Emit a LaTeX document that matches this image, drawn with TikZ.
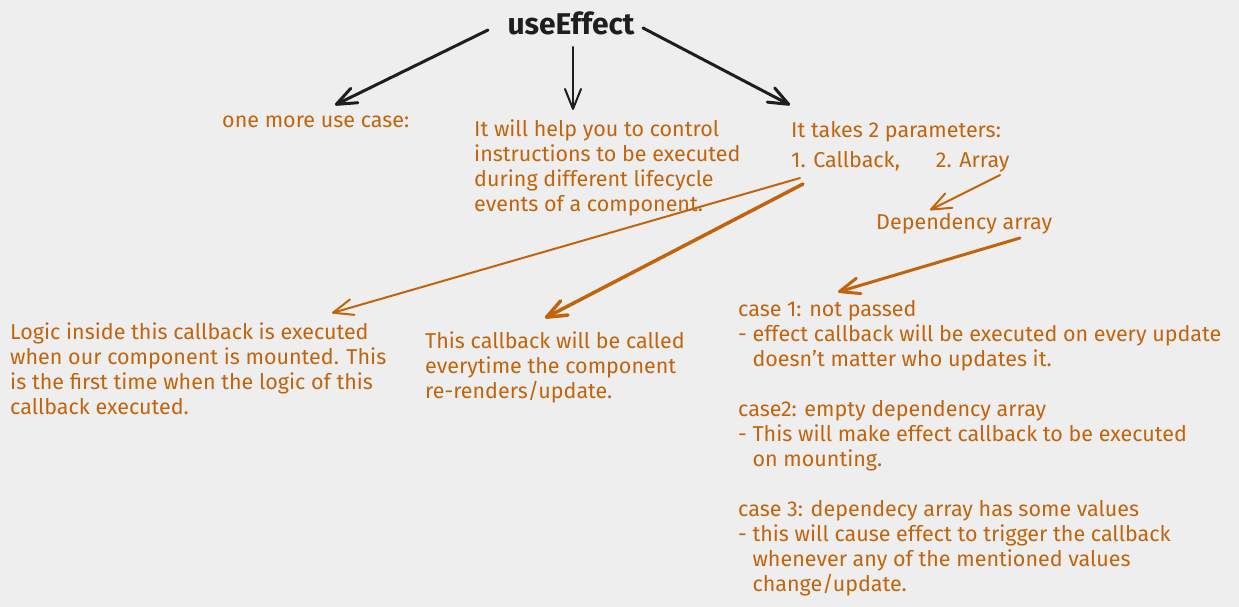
\documentclass[tikz,border=0pt]{standalone}
\usepackage{fontspec}
\setmainfont{Fira Sans}
\usetikzlibrary{arrows.meta,calc}
\definecolor{bgcol}{RGB}{238,238,238}
\definecolor{inkblack}{RGB}{30,30,30}
\definecolor{inkorange}{RGB}{194,100,12}
\begin{document}
\begin{tikzpicture}[x=1pt,y=-1pt,
    ttl/.style={text=inkblack, font=\fontsize{30}{36}\selectfont\bfseries, inner sep=0pt, anchor=base},
    txt/.style={text=inkorange, font=\fontsize{21.5}{25}\selectfont, align=left,
      inner sep=0pt, anchor=base west},
    arw/.style={draw=inkblack, line width=3pt, line cap=round,
      -{Straight Barb[length=20pt,width=16pt,round]}},
    oarw/.style={draw=inkorange, line width=2pt, line cap=round,
      -{Straight Barb[length=20pt,width=16pt,round]}}]
  \fill[bgcol] (0,0) rectangle (1239,607);
  % multi-line texts sit on their last baseline
  \node[ttl] (UseEffect) at (571,35) {useEffect};
  \node[txt] (UseCase) at (222,128) {one more use case:};
  \node[txt] (Control) at (474,211) {It will help you to control\\
    instructions to be executed\\during different lifecycle\\events of a component.};
  \node[txt] (Params) at (791,167) {It takes 2 parameters:\\[4pt]
    1. Callback,\hspace{36pt}2. Array};
  \node[txt] (DepArray) at (876,229) {Dependency array};
  \node[txt] (Mounted) at (10,414) {Logic inside this callback is executed\\
    when our component is mounted. This\\is the first time when the logic of this\\
    callback executed.};
  \node[txt] (Rerender) at (425,398) {This callback will be called\\
    everytime the component\\re-renders/update.};
  \node[txt] (Cases) at (738,591) {case 1: not passed\\
    - effect callback will be executed on every update\\
    \phantom{- }doesn't matter who updates it.\\[25pt]
    case2: empty dependency array\\
    - This will make effect callback to be executed\\
    \phantom{- }on mounting.\\[25pt]
    case 3: dependecy array has some values\\
    - this will cause effect to trigger the callback\\
    \phantom{- }whenever any of the mentioned values\\
    \phantom{- }change/update.};
  % black arrows out of the title
  \draw[arw] ($(UseEffect.base)+(-83,-5)$) -- ($(UseCase.base west)+(113,-23)$);
  \draw[arw, line width=2pt] ($(UseEffect.base)+(2,12)$) -- ($(Control.base west)+(99,-101)$);
  \draw[arw] ($(UseEffect.base)+(72,-7)$) -- ($(Params.base west)+(-1,-62)$);
  % orange arrows
  \draw[oarw] ($(Params.base west)+(9,11)$) -- ($(Mounted.base west)+(322,-101)$);
  \draw[oarw, line width=3.5pt] ($(Params.base west)+(12,17)$) -- ($(Rerender.base west)+(120,-80)$);
  \draw[oarw] ($(Params.base west)+(209,8)$) -- ($(DepArray.base west)+(54,-19)$);
  \draw[oarw, line width=3pt] ($(DepArray.base west)+(144,9)$) -- ($(Cases.base west)+(100,-299)$);
\end{tikzpicture}
\end{document}
